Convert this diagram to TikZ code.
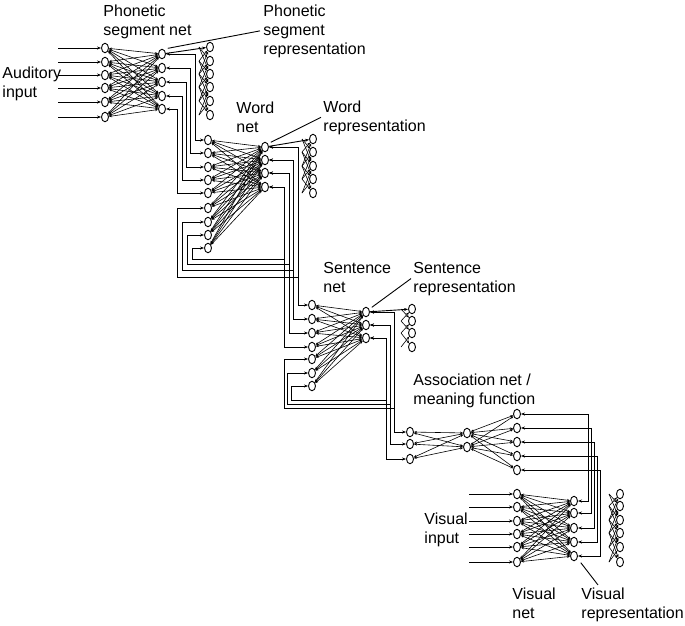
\documentclass[tikz,border=0pt]{standalone}
\usepackage{fontspec}
\setmainfont{Liberation Sans}
\usetikzlibrary{arrows.meta,shapes.geometric}

\begin{document}
\begin{tikzpicture}[x=1pt, y=-1pt, >={Stealth[length=4pt,width=3pt]}, line width=0.9pt,
    unit/.style={draw, ellipse, minimum width=7pt, minimum height=9.5pt, inner sep=0pt, line width=0.9pt},
    lab/.style={align=left, anchor=base west, inner sep=0pt, font=\fontsize{16}{19}\selectfont},
    link/.style={<->, line width=0.6pt, >={Stealth[length=3pt,width=2.4pt]}},
    wire/.style={<->, line width=0.95pt}]

  \useasboundingbox (0,0) rectangle (685,625);

  % Einheiten
  \foreach \y [count=\i] in {48,62,75,88,102,117} \node[unit] (ps-in-\i) at (105,\y) {};
  \foreach \y [count=\i] in {54,68,82,96,109} \node[unit] (ps-hid-\i) at (162,\y) {};
  \foreach \y [count=\i] in {47,61,74,87,101,115} \node[unit] (ps-out-\i) at (210,\y) {};

  \foreach \y [count=\i] in {140,153,167,180,193,208,222,235,248} \node[unit] (wd-in-\i) at (208,\y) {};
  \foreach \y [count=\i] in {147,160,173,187} \node[unit] (wd-hid-\i) at (265,\y) {};
  \foreach \y [count=\i] in {139,152,166,179,193} \node[unit] (wd-out-\i) at (313,\y) {};

  \foreach \y [count=\i] in {305,319,333,347,359,373,386} \node[unit] (sn-in-\i) at (312,\y) {};
  \foreach \y [count=\i] in {312,325,338} \node[unit] (sn-hid-\i) at (366,\y) {};
  \foreach \y [count=\i] in {309,321,333,347} \node[unit] (sn-out-\i) at (412,\y) {};

  \foreach \y [count=\i] in {432,444,459} \node[unit] (as-l-\i) at (410,\y) {};
  \foreach \y [count=\i] in {433,447} \node[unit] (as-m-\i) at (467,\y) {};
  \foreach \y [count=\i] in {414,428,442,456,470} \node[unit] (as-r-\i) at (517,\y) {};

  \foreach \y [count=\i] in {494,507,521,534,547,562} \node[unit] (vs-in-\i) at (517,\y) {};
  \foreach \y [count=\i] in {501,513,528,542,556} \node[unit] (vs-hid-\i) at (574,\y) {};
  \foreach \y [count=\i] in {494,506,520,533,547,562} \node[unit] (vs-out-\i) at (620,\y) {};

  % Eingaenge
  \foreach \i in {1,...,6} {
    \draw[->] ([xshift=-43pt]ps-in-\i.west) -- (ps-in-\i);
    \draw[->] ([xshift=-44pt]vs-in-\i.west) -- (vs-in-\i);
  }

  % Netze (voll verbunden)
  \foreach \i in {1,...,6} \foreach \j in {1,...,5} \draw[link] (ps-in-\i) -- (ps-hid-\j);
  \foreach \i in {1,...,9} \foreach \j in {1,...,4} \draw[link] (wd-in-\i) -- (wd-hid-\j);
  \foreach \i in {1,...,7} \foreach \j in {1,...,3} \draw[link] (sn-in-\i) -- (sn-hid-\j);
  \foreach \i in {1,...,3} \foreach \j in {1,2} \draw[link] (as-l-\i) -- (as-m-\j);
  \foreach \i in {1,...,5} \foreach \j in {1,2} \draw[link] (as-r-\i) -- (as-m-\j);
  \foreach \i in {1,...,6} \foreach \j in {1,...,5} \draw[link] (vs-in-\i) -- (vs-hid-\j);

  % Ausgaben (Rekonstruktion)
  \draw[->] (ps-hid-1) -- (ps-out-1);
  \draw[->] (wd-hid-1) -- (wd-out-1);
  \draw[->] (sn-hid-1) -- (sn-out-1);
  \foreach \i/\j in {1/2,2/1,2/3,3/2,3/4,4/3,4/5,5/4,5/6,6/5,1/3,3/1,2/4,4/2,3/5,5/3,4/6,6/4} {
    \draw[link, <-] (ps-out-\i) -- ([xshift=-11pt]ps-out-\j.center);
    \draw[link, <-] (vs-out-\i) -- ([xshift=-11pt]vs-out-\j.center);
  }
  \foreach \i/\j in {1/2,2/1,2/3,3/2,3/4,4/3,4/5,5/4,1/3,3/1,2/4,4/2,3/5,5/3} \draw[link, <-] (wd-out-\i) -- ([xshift=-11pt]wd-out-\j.center);
  \foreach \i/\j in {1/2,2/1,2/3,3/2,3/4,4/3} \draw[link, <-] (sn-out-\i) -- ([xshift=-11pt]sn-out-\j.center);

  % Phonetik -> Wort
  \foreach \i/\vx in {1/195,2/190,3/186,4/182,5/177}
    \draw[wire] (ps-hid-\i.east) -| (\vx,0 |- wd-in-\i) -- (wd-in-\i);

  % Wort -> Satz, Rueckkopplung Wort
  \foreach \i/\rx/\by/\lx in {1/298/277/177,2/293/270/182,3/289/264/187,4/284/259/192} {
    \pgfmathtruncatemacro\k{\i+5}
    \draw[wire] (wd-hid-\i.east) -| (\rx,\by) -| (\lx,0 |- wd-in-\k) -- (wd-in-\k);
    \draw[wire] (wd-hid-\i.east) -| (\rx,0 |- sn-in-\i) -- (sn-in-\i);
  }

  % Satz -> Assoziation, Rueckkopplung Satz
  \foreach \i/\rx/\by/\lx in {1/394/408/284,2/390/404/287,3/386/400/291} {
    \pgfmathtruncatemacro\k{\i+4}
    \draw[wire] (sn-hid-\i.east) -| (\rx,\by) -| (\lx,0 |- sn-in-\k) -- (sn-in-\k);
    \draw[wire] (sn-hid-\i.east) -| (\rx,0 |- as-l-\i) -- (as-l-\i);
  }

  % Visuell -> Assoziation
  \foreach \i/\rx in {1/588,2/591,3/594,4/597,5/600}
    \draw[wire] (vs-hid-\i.east) -| (\rx,0 |- as-r-\i) -- (as-r-\i);

  % Beschriftungen
  \node[lab] (lab-psnet) at (103,35) {Phonetic\\segment net};
  \node[lab] (lab-psrep) at (263,54) {Phonetic\\segment\\representation};
  \node[lab] (lab-aud) at (2,97) {Auditory\\input};
  \node[lab] (lab-wdnet) at (236,132) {Word\\net};
  \node[lab] (lab-wdrep) at (323,131) {Word\\representation};
  \node[lab] (lab-snnet) at (323,292) {Sentence\\net};
  \node[lab] (lab-snrep) at (413,292) {Sentence\\representation};
  \node[lab] (lab-as) at (413,404) {Association net /\\meaning function};
  \node[lab] (lab-vsin) at (424,543) {Visual\\input};
  \node[lab] (lab-vsnet) at (512,618) {Visual\\net};
  \node[lab] (lab-vsrep) at (581,618) {Visual\\representation};

  \draw ([shift={(3,-2)}]ps-hid-1.north east) -- ([xshift=-3pt]lab-psrep.west);
  \draw ([shift={(3,-1)}]wd-hid-1.north east) -- ([xshift=-2pt]lab-wdrep.west);
  \draw ([shift={(3,-1)}]sn-hid-1.north east) -- ([xshift=-2pt]lab-snrep.west);
  \draw ([shift={(4,3)}]vs-hid-5.south east) -- ([shift={(17,-2)}]lab-vsrep.north west);

\end{tikzpicture}
\end{document}
